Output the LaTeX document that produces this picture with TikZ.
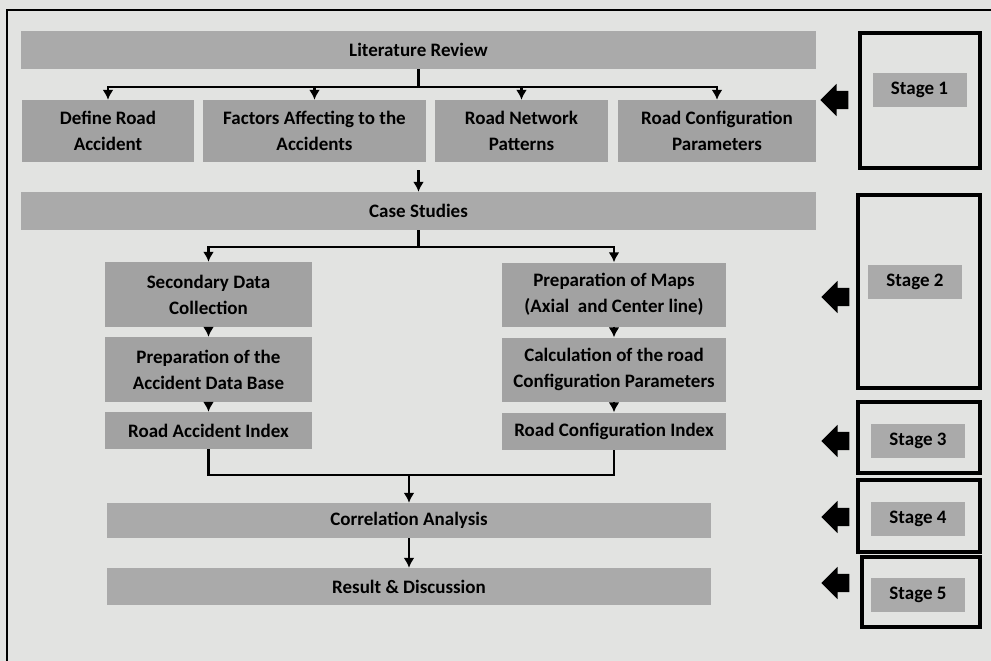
\documentclass[tikz,border=0pt]{standalone}
\usepackage{fontspec}
\setmainfont{Carlito}
\usepackage{tikz}
\usetikzlibrary{arrows.meta,shapes}
\definecolor{paper}{RGB}{226,227,225}
\definecolor{bargray}{RGB}{170,170,170}
\definecolor{boxgray}{RGB}{162,162,162}
\tikzstyle{bar}=[rectangle,fill=bargray,inner sep=0pt,align=center,font=\bfseries\fontsize{19}{26}\selectfont]
\tikzstyle{box}=[bar,fill=boxgray]
\tikzstyle{stagebox}=[rectangle,draw=black,line width=3.5pt,inner sep=0pt]
\tikzstyle{stagelabel}=[bar,minimum width=94pt,minimum height=34pt]
\tikzstyle{blockarrow}=[single arrow,shape border rotate=180,fill=black,inner xsep=0pt,inner ysep=9pt,minimum width=32pt,minimum height=28pt,single arrow head extend=7pt]
\tikzstyle{edge} = [draw,line width=2.6pt,-{Latex[length=10pt,width=11pt]}]
\tikzstyle{link} = [draw,line width=2.6pt,-]

\begin{document}
\begin{tikzpicture}[x=1pt,y=-1pt]
      \fill[paper] (0,0) rectangle (991,661);
      \useasboundingbox (0,0) rectangle (991,661);
      \draw[line width=1.5pt] (7,661) -- (7,10) -- (991,10);
      % stage 1
      \node[bar,minimum width=795pt,minimum height=38pt] (lit) at (418.5,50) {Literature Review};
      \node[box,minimum width=172pt,minimum height=62pt] (def) at (108,131) {Define Road\\Accident};
      \node[box,minimum width=223pt,minimum height=62pt] (fac) at (314.5,131) {Factors Affecting to the\\Accidents};
      \node[box,minimum width=173pt,minimum height=62pt] (net) at (521.5,131) {Road Network\\Patterns};
      \node[box,minimum width=198pt,minimum height=62pt] (par) at (717,131) {Road Configuration\\Parameters};
      \coordinate (split1) at (418.5,87);
      \draw[link] (lit) -- (split1);
      \draw[edge] (split1) -| (def);
      \draw[edge] (split1) -| (fac);
      \draw[edge] (split1) -| (net);
      \draw[edge] (split1) -| (par);
      % stage 2
      \node[bar,minimum width=795pt,minimum height=38pt] (cs) at (418.5,211) {Case Studies};
      \coordinate (csin) at (418.5,170);
      \draw[edge] (csin) -- (cs);
      \node[box,minimum width=207pt,minimum height=65pt] (sdc) at (208.5,294.5) {Secondary Data\\Collection};
      \node[box,minimum width=207pt,minimum height=65pt] (pad) at (208.5,369.5) {Preparation of the\\Accident Data Base};
      \node[box,minimum width=224pt,minimum height=64pt] (pom) at (614,294.5) {Preparation of Maps\\(Axial\ \ and Center line)};
      \node[box,minimum width=224pt,minimum height=64pt] (crp) at (614,369.5) {Calculation of the road\\Configuration Parameters};
      \coordinate (split2) at (418.5,247);
      \draw[link] (cs) -- (split2);
      \draw[edge] (split2) -| (sdc);
      \draw[edge] (split2) -| (pom);
      \draw[edge] (sdc) -- (pad);
      \draw[edge] (pom) -- (crp);
      % stage 3
      \node[box,minimum width=207pt,minimum height=37pt] (rai) at (208.5,430.5) {Road Accident Index};
      \node[box,minimum width=224pt,minimum height=37pt] (rci) at (614,431) {Road Configuration Index};
      \draw[edge] (pad) -- (rai);
      \draw[edge] (crp) -- (rci);
      % stage 4 and 5
      \node[bar,minimum width=604pt,minimum height=35pt] (ca) at (409,520.5) {Correlation Analysis};
      \node[bar,minimum width=604pt,minimum height=37pt] (rd) at (409,586.5) {Result \& Discussion};
      \coordinate (join) at (409,475);
      \draw[link] (rai) |- (join) -| (rci);
      \draw[edge] (join) -- (ca);
      \draw[edge] (ca) -- (rd);
      % stage markers
      \node[stagebox,minimum width=120pt,minimum height=135pt] (sb1) at (920,100.5) {};
      \node[stagelabel] (sl1) at (919.5,90) {Stage 1};
      \node[blockarrow] (ar1) at (839,100) {};
      \node[stagebox,minimum width=122pt,minimum height=193pt] (sb2) at (919,291.5) {};
      \node[stagelabel] (sl2) at (915,282) {Stage 2};
      \node[blockarrow] (ar2) at (840,297) {};
      \node[stagebox,minimum width=122pt,minimum height=71pt] (sb3) at (919,437.5) {};
      \node[stagelabel] (sl3) at (918,440.5) {Stage 3};
      \node[blockarrow] (ar3) at (840,441) {};
      \node[stagebox,minimum width=122pt,minimum height=72pt] (sb4) at (919,516) {};
      \node[stagelabel] (sl4) at (918,518.5) {Stage 4};
      \node[blockarrow] (ar4) at (840,517) {};
      \node[stagebox,minimum width=118pt,minimum height=70pt] (sb5) at (921,592) {};
      \node[stagelabel] (sl5) at (918,595) {Stage 5};
      \node[blockarrow] (ar5) at (840,583) {};
    \end{tikzpicture}
\end{document}
